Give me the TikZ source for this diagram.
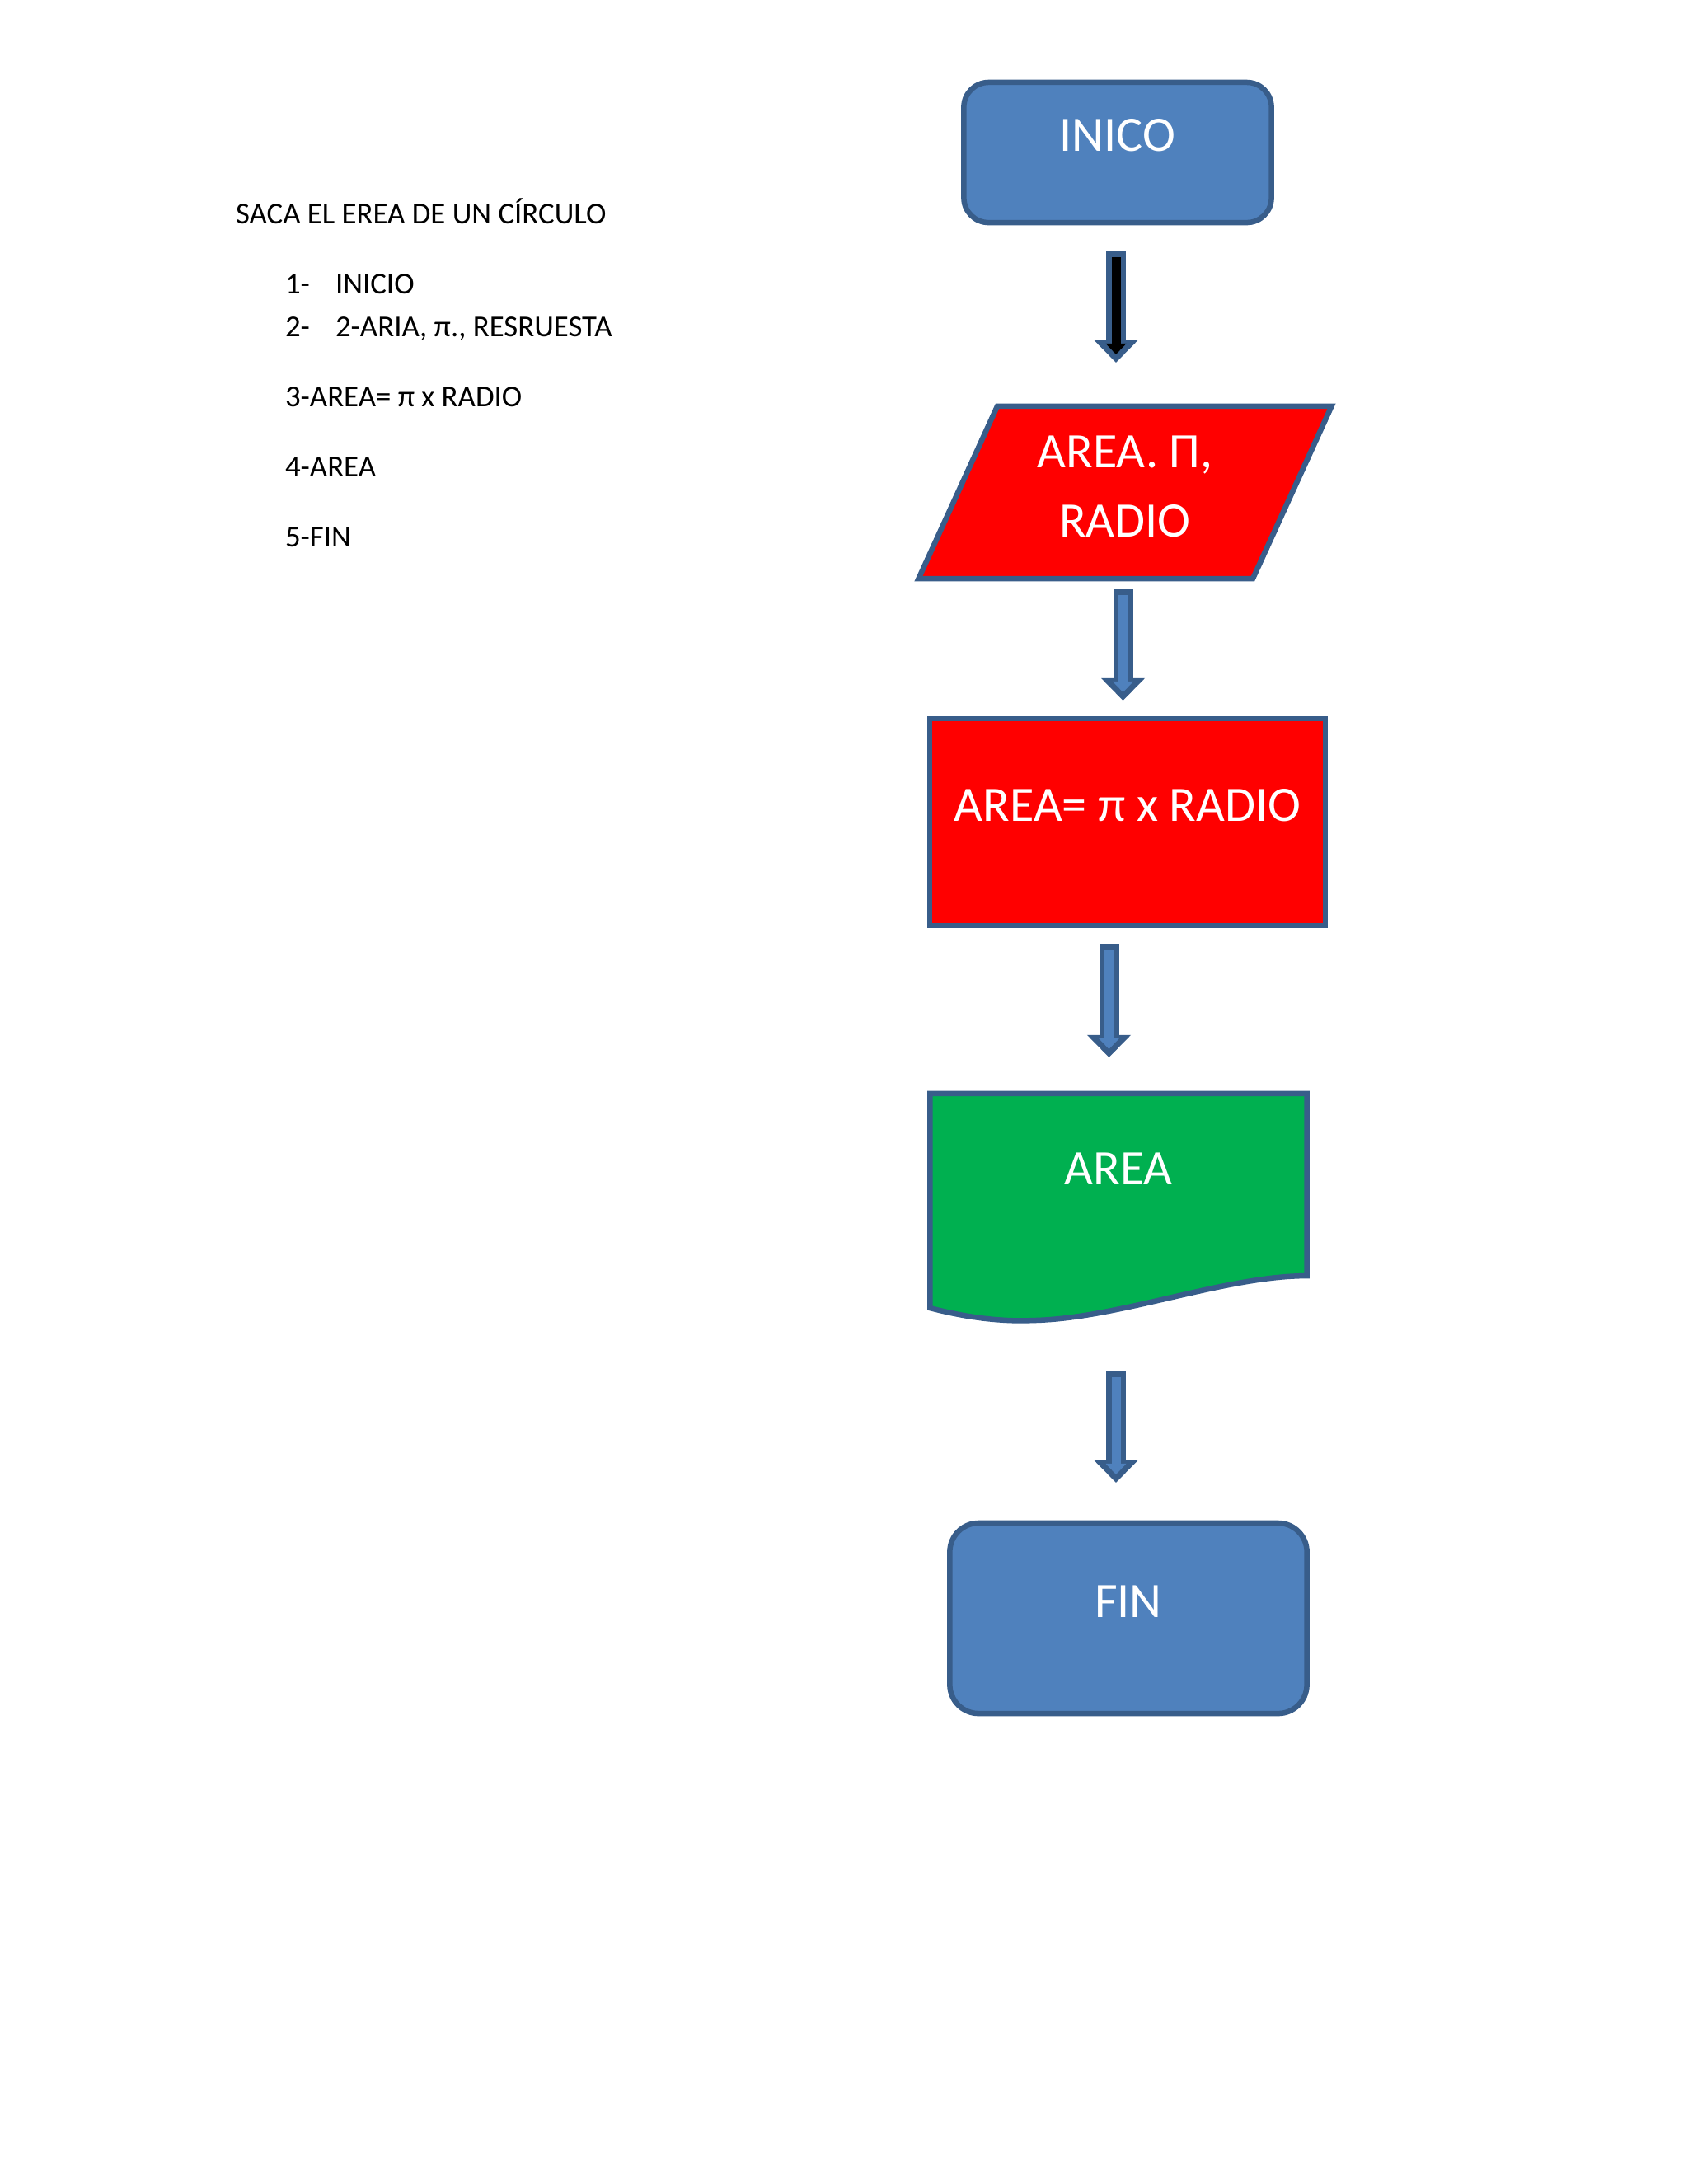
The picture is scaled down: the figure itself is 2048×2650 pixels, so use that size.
\documentclass[tikz,border=0pt]{standalone}
\usepackage{fontspec}
\setmainfont{Carlito}
\usetikzlibrary{positioning,arrows.meta,shapes.geometric,calc,backgrounds}
\definecolor{azul}{HTML}{4F81BD}
\definecolor{borde}{HTML}{385D8A}
\definecolor{rojo}{HTML}{FF0000}
\definecolor{verde}{HTML}{00B050}

\begin{document}
\begin{tikzpicture}[
    x=0.01cm, y=-0.01cm,
    every node/.style={inner sep=0pt, outer sep=0pt},
    big/.style={font=\fontsize{17.1pt}{23.9pt}\selectfont, text=white, align=center},
    small/.style={font=\fontsize{10.47pt}{12.5pt}\selectfont, anchor=base west},
    term/.style={big, draw=borde, fill=azul, line width=0.065cm},
    dato/.style={big, trapezium, draw=borde, fill=rojo, line width=0.065cm,
                 trapezium left angle=64.4, trapezium right angle=115.6,
                 trapezium stretches=true,
                 minimum width=5.03cm, minimum height=2.09cm},
    proc/.style={big, draw=borde, fill=rojo, line width=0.065cm},
    doc/.style={draw=borde, fill=verde, line width=0.065cm},
    arr/.style={line width=0.24cm, draw=borde,
                -{Triangle[width=0.53cm,length=0.27cm,line width=0pt]},
                postaction={draw=#1, line width=0.11cm,
                            shorten <=0.07cm, shorten >=0.10cm,
                            -{Triangle[width=0.25cm,length=0.13cm,line width=0pt]}}},
    arr/.default=azul
  ]
  \begin{scope}[on background layer]
    \fill[white] (0,0) rectangle (2048,2650);
  \end{scope}
  \useasboundingbox (0,0) rectangle (2048,2650);

  % left column
  \node[small] (titulo) at (286,271) {SACA EL EREA DE UN CÍRCULO};
  \node[small] (paso1) at (346,356) {\makebox[0.61cm][l]{1-}INICIO};
  \node[small] (paso2) at (346,408) {\makebox[0.61cm][l]{2-}2-ARIA, π., RESRUESTA};
  \node[small] (paso3) at (346,493) {3-AREA= π x RADIO};
  \node[small] (paso4) at (346,578) {4-AREA};
  \node[small] (paso5) at (346,663) {5-FIN};

  % flow chart
  \node[term, rounded corners=0.30cm, minimum width=3.73cm,
        text height=0.83cm, text depth=0.87cm] (inico) at (1356,185) {INICO};
  \node[dato, text depth=0.14cm] (entrada) at (1365,597.5) {AREA. Π,\\RADIO};
  \node[proc, minimum width=4.80cm,
        text height=1.24cm, text depth=1.27cm] (proceso) at (1368,997.5) {AREA= π x RADIO};
  \node[big, minimum width=4.57cm,
        text height=1.10cm, text depth=1.50cm] (salida) at (1357,1457) {AREA};
  \node[term, rounded corners=0.35cm, minimum width=4.33cm,
        text height=1.14cm, text depth=1.17cm] (fin) at (1369,1963.5) {FIN};

  \begin{scope}[on background layer]
    \draw[doc] (salida.north west) -- (salida.north east)
      -- ($(salida.south east)+(0,-39)$)
      .. controls ($(salida.south east)+(-100,-39)$) and ($(salida.south east)+(-229,13)$)
      .. ($(salida.south west)+(125,15)$)
      .. controls ($(salida.south west)+(78,17)$) and ($(salida.south west)+(35,9)$)
      .. (salida.south west) -- cycle;
  \end{scope}

  \draw[arr=black] ($(inico.south)+(-2,35)$) -- ($(inico.south |- entrada.north)+(-2,-53)$);
  \draw[arr] ($(entrada.south)+(-2.5,13)$) -- ($(entrada.south |- proceso.north)+(-2.5,-22)$);
  \draw[arr] ($(proceso.south)+(-22.5,23)$) -- ($(proceso.south |- salida.north)+(-22.5,-44)$);
  \draw[arr] ($(salida.south)+(-3,77)$) -- ($(salida.south |- fin.north)+(-3,-49)$);
\end{tikzpicture}
\end{document}
